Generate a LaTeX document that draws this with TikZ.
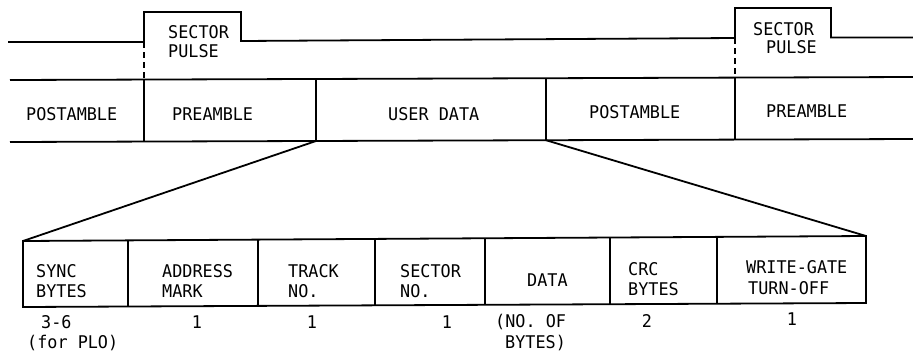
\documentclass[tikz,border=0pt]{standalone}
\usepackage{fontspec}
\setmonofont[FakeStretch=0.96]{DejaVu Sans Mono}
\begin{document}
\begin{tikzpicture}[x=1pt,y=-1pt,
  ln/.style={line width=1.8pt,line join=miter},
  dashln/.style={line width=1.8pt,dash pattern=on 6pt off 4pt},
  lbl/.style={inner sep=0pt,anchor=base west,font=\ttfamily\fontsize{17.5pt}{20pt}\selectfont},
  lblc/.style={inner sep=0pt,anchor=base,font=\ttfamily\fontsize{17.5pt}{20pt}\selectfont}]
\useasboundingbox (0,0) rectangle (913,354);
% sector pulse signal
\draw[ln] (8,42) -- (144,42) -- (144,12) -- (241,12) -- (241,41) -- (735,38)
  -- (735,8) -- (831,8) -- (831,37.5) -- (913,37.5);
\draw[dashln] (144,42) -- (144,79.6);
\draw[dashln] (735,38) -- (735,77.6);
% band
\coordinate (bUDl) at (316,141);
\coordinate (bUDr) at (546,140.2);
\draw[ln] (10,80) -- (913,77);
\draw[ln] (10,142) -- (913,139);
\draw[ln] (144,79.6) -- (144,141.6);
\draw[ln] (316,79) -- (bUDl);
\draw[ln] (546,78.2) -- (bUDr);
\draw[ln] (735,77.6) -- (735,139.6);
\node[lbl] (sp1a) at (168,38) {SECTOR};
\node[lbl] (sp1b) at (168,57) {PULSE};
\node[lbl] (sp2a) at (753,35) {SECTOR};
\node[lbl] (sp2b) at (766,53) {PULSE};
\node[lbl] (post1) at (26,120) {POSTAMBLE};
\node[lbl] (pre1) at (172,120) {PREAMBLE};
\node[lbl] (ud) at (388,120) {USER DATA};
\node[lbl] (post2) at (589,118) {POSTAMBLE};
\node[lbl] (pre2) at (766,117) {PREAMBLE};
% detail box
\coordinate (tl) at (23,241);
\coordinate (tr) at (866,236);
\coordinate (br) at (866,303);
\coordinate (bl) at (23,307);
\draw[ln] (tl) -- (tr) -- (br) -- (bl) -- cycle;
\draw[ln] (128,240.4) -- (128,306.5);
\draw[ln] (258,239.6) -- (258,305.9);
\draw[ln] (375,238.9) -- (375,305.3);
\draw[ln] (485,238.3) -- (485,304.8);
\draw[ln] (610,237.5) -- (610,304.2);
\draw[ln] (717,236.9) -- (717,303.7);
% expansion lines
\draw[ln] (bUDl) -- (tl);
\draw[ln] (bUDr) -- (tr);
% box labels
\node[lbl] (s1) at (36,277) {SYNC};
\node[lbl] (s2) at (36,297) {BYTES};
\node[lbl] (a1) at (162,277) {ADDRESS};
\node[lbl] (a2) at (162,297) {MARK};
\node[lbl] (t1) at (288,277) {TRACK};
\node[lbl] (t2) at (288,297) {NO.};
\node[lbl] (n1) at (400,277) {SECTOR};
\node[lbl] (n2) at (400,297) {NO.};
\node[lbl] (d1) at (527,286) {DATA};
\node[lbl] (c1) at (628,275) {CRC};
\node[lbl] (c2) at (628,295) {BYTES};
\node[lbl] (w1) at (746,273) {WRITE-GATE};
\node[lbl] (w2) at (748,294) {TURN-OFF};
% counts
\node[lbl] (q1a) at (41,328) {3-6};
\node[lbl] (q1b) at (27,348) {(for PLO)};
\node[lblc] (q2) at (197,328) {1};
\node[lblc] (q3) at (312,328) {1};
\node[lblc] (q4) at (447,328) {1};
\node[lbl] (q5a) at (495,327) {(NO. OF};
\node[lbl] (q5b) at (505,348) {BYTES)};
\node[lblc] (q6) at (647,327) {2};
\node[lblc] (q7) at (792,325) {1};
\end{tikzpicture}
\end{document}
